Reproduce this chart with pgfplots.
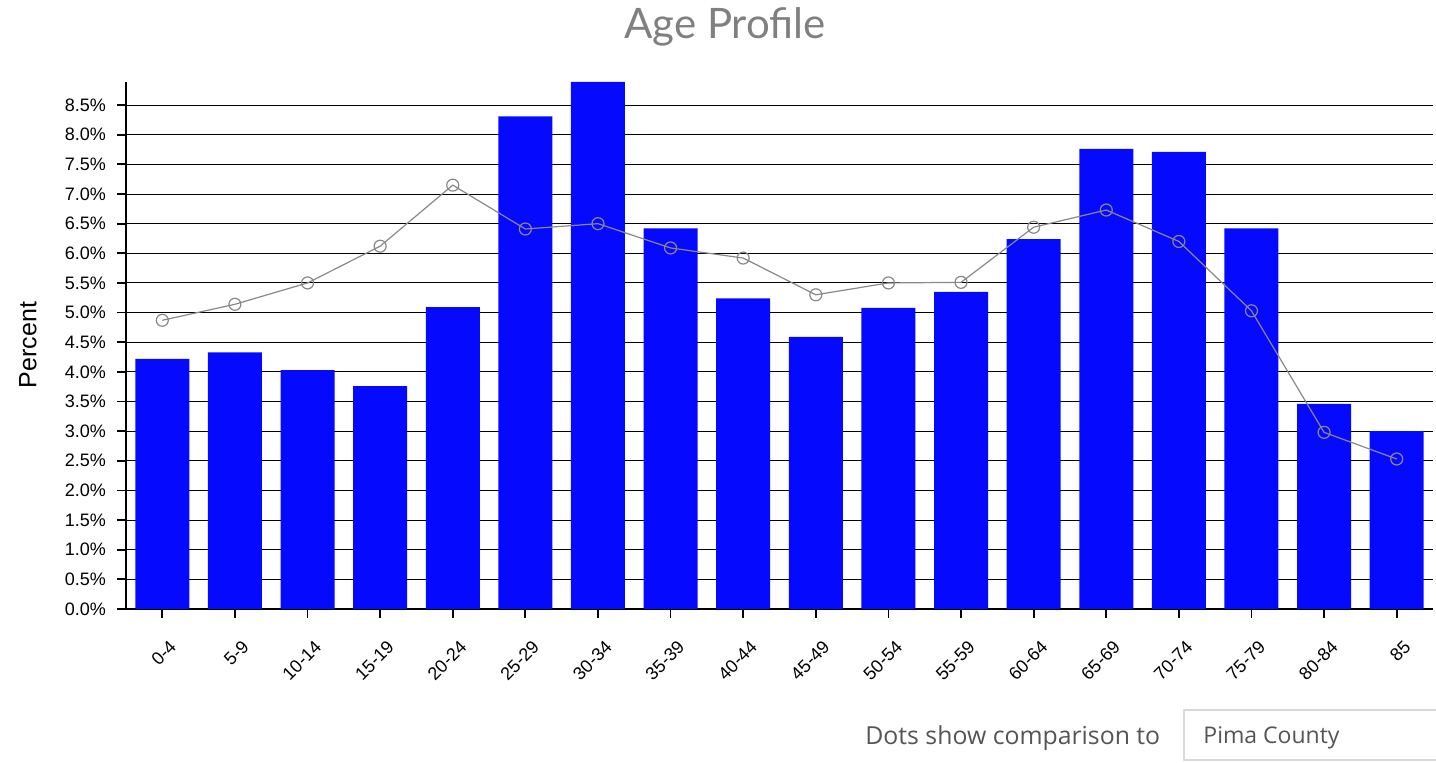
\documentclass[border=0pt]{standalone}
\usepackage{pgfplots}
\pgfplotsset{compat=1.18}
\usepackage{fontspec}
\setmainfont{Liberation Sans}
\newfontfamily\latofont{Lato}
\newfontfamily\notofont{Open Sans}
\definecolor{barblue}{RGB}{5,10,255}
\definecolor{dotgray}{RGB}{136,136,136}
\definecolor{titlegray}{RGB}{128,128,128}
\definecolor{textgray}{RGB}{85,85,85}
\begin{document}
\begin{tikzpicture}
\path[use as bounding box] (-63pt,-77pt) rectangle (655pt,304.5pt);
\begin{axis}[
  scale only axis,
  width=653.5pt, height=263.5pt,
  anchor=south west, at={(0,0)},
  xmin=-0.5, xmax=17.5,
  ymin=0, ymax=8.89,
  axis x line*=bottom, axis y line*=left,
  axis line style={line width=0.9pt, -},
  ytick={0,0.5,...,8.5},
  yticklabel={\pgfmathprintnumber[fixed,fixed zerofill,precision=1]{\tick}\%},
  /pgf/number format/assume math mode=true,
  xtick={0,...,17},
  xticklabels={0-4,5-9,10-14,15-19,20-24,25-29,30-34,35-39,40-44,45-49,50-54,55-59,60-64,65-69,70-74,75-79,80-84,85},
  tick align=outside,
  major tick length=4.5pt,
  tick style={line width=0.9pt, black},
  ymajorgrids,
  grid style={line width=0.5pt, black},
  ticklabel style={font=\fontsize{9}{10}\selectfont},
  yticklabel style={xshift=-2pt},
  xticklabel style={rotate=45, anchor=east, yshift=-13pt, xshift=-2pt},
  clip=false,
]
\addplot[ybar, bar width=27pt, fill=barblue, draw=none] coordinates {
(0,4.22) (1,4.33) (2,4.03) (3,3.76) (4,5.09) (5,8.31) (6,8.89) (7,6.42) (8,5.24)
(9,4.59) (10,5.08) (11,5.35) (12,6.24) (13,7.76) (14,7.71) (15,6.42) (16,3.46) (17,3.00)
};
\addplot[dotgray, line width=0.6pt, mark=o, mark size=3pt, mark options={dotgray, fill=none, line width=0.6pt}] coordinates {
(0,4.87) (1,5.14) (2,5.50) (3,6.12) (4,7.15) (5,6.41) (6,6.50) (7,6.09) (8,5.92)
(9,5.30) (10,5.50) (11,5.51) (12,6.44) (13,6.73) (14,6.20) (15,5.03) (16,2.98) (17,2.53)
};
\end{axis}
\node[font=\latofont\fontsize{21}{23}\selectfont, text=titlegray] at (299.5pt,291pt) {Age Profile};
\node[rotate=90, font=\fontsize{12.5}{14}\selectfont] at (-49pt,132pt) {Percent};
\node[anchor=west, inner sep=0pt, font=\notofont\fontsize{12.4}{14}\selectfont, text=textgray] at (369.5pt,-64.5pt) {Dots show comparison to};
\draw[black!15, line width=0.8pt] (657pt,-50.5pt) -- (529pt,-50.5pt) -- (529pt,-75.5pt) -- (657pt,-75.5pt);
\node[anchor=west, inner sep=0pt, font=\notofont\fontsize{11.5}{14}\selectfont, text=textgray] at (538.5pt,-64.5pt) {Pima County};
\end{tikzpicture}
\end{document}
